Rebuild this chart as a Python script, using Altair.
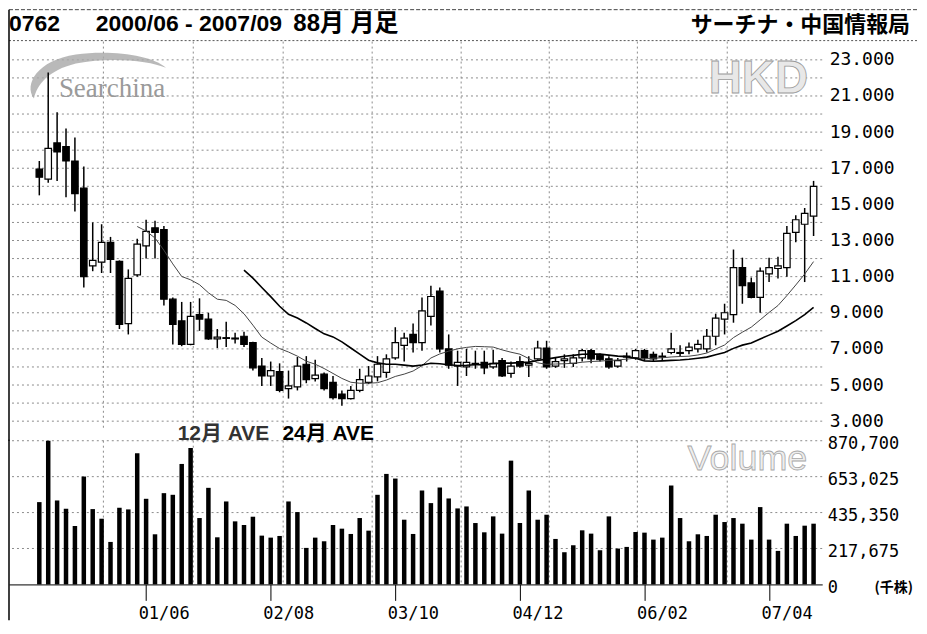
import altair as alt
import pandas as pd

# ---------------- data ----------------
open_ = [16.95, 16.4, 18.4, 18.2, 17.4, 15.9, 11.6, 11.8, 12.9, 11.85,
         8.4, 11.1, 12.7, 13.7, 13.6, 9.75, 8.55, 7.25, 8.9, 8.65,
         7.55, 7.62, 7.6, 7.7, 7.35, 6.05, 5.5, 5.75, 4.8, 4.9,
         6.15, 5.35, 5.6, 5.15, 4.5, 4.25, 4.7, 5.15, 5.45, 5.7,
         6.5, 7.2, 7.8, 7.35, 8.8, 10.2, 7.0, 6.05, 6.0, 6.2,
         6.25, 6.0, 6.35, 5.65, 6.3, 6.1, 6.45, 7.05, 6.05, 6.35,
         6.2, 6.5, 6.9, 6.65, 6.45, 6.05, 6.55, 6.5, 6.9, 6.7,
         6.55, 6.8, 6.75, 6.9, 7.0, 7.0, 7.7, 8.65, 8.9, 11.5,
         10.65, 9.85, 11.15, 11.45, 11.5, 13.45, 13.9, 14.35]
high = [17.4, 22.3, 20.1, 19.2, 18.7, 17.1, 14.0, 13.9, 13.2, 11.9,
        11.4, 13.1, 14.15, 14.1, 13.8, 9.85, 9.6, 9.6, 9.8, 9.0,
        8.1, 8.5, 7.9, 7.95, 7.4, 6.5, 6.3, 6.2, 5.8, 6.55,
        6.6, 6.4, 5.7, 5.5, 4.7, 4.95, 5.9, 6.05, 6.6, 6.7,
        8.2, 7.9, 8.4, 9.85, 10.5, 10.4, 7.8, 6.9, 7.0, 6.9,
        6.9, 6.95, 6.5, 6.3, 6.6, 6.6, 7.45, 7.45, 6.5, 6.7,
        6.7, 7.0, 7.0, 6.75, 6.6, 6.5, 6.8, 7.0, 7.0, 6.85,
        6.8, 7.9, 7.2, 7.35, 7.5, 8.1, 8.95, 9.5, 12.5, 12.05,
        10.95, 11.5, 12.05, 12.1, 13.8, 14.4, 14.8, 16.3]
low = [15.5, 16.2, 16.3, 15.4, 14.6, 10.4, 11.3, 11.2, 11.2, 8.1,
       7.8, 11.0, 12.0, 12.0, 9.4, 7.25, 7.15, 7.2, 8.0, 7.5,
       7.05, 7.1, 7.3, 7.1, 5.8, 4.95, 4.95, 4.6, 4.25, 4.7,
       5.1, 5.2, 4.7, 4.2, 3.85, 4.2, 4.6, 5.05, 5.2, 5.4,
       6.4, 6.3, 6.8, 6.9, 8.3, 6.8, 5.9, 4.95, 5.5, 5.9,
       5.6, 5.9, 5.45, 5.4, 5.95, 5.45, 6.4, 5.9, 5.95, 5.95,
       6.0, 6.3, 6.2, 6.3, 5.9, 5.95, 6.3, 6.4, 6.35, 6.3,
       6.35, 6.7, 6.6, 6.7, 6.8, 6.8, 7.2, 7.8, 8.45, 9.5,
       9.8, 9.0, 10.7, 10.9, 11.0, 12.9, 10.7, 13.25]
close = [16.5, 18.1, 17.9, 17.4, 15.6, 11.0, 11.9, 12.9, 11.95, 8.35,
         10.9, 12.8, 13.5, 13.45, 9.75, 8.35, 7.25, 8.8, 8.65, 7.55,
         7.65, 7.58, 7.55, 7.25, 5.95, 5.5, 5.8, 4.7, 4.95, 6.05,
         5.3, 5.55, 4.8, 4.3, 4.25, 4.7, 5.3, 5.5, 6.15, 6.45,
         7.35, 7.6, 7.35, 9.1, 9.9, 7.0, 6.1, 6.25, 6.25, 6.15,
         5.95, 6.2, 5.5, 6.05, 6.05, 6.2, 7.05, 6.0, 6.3, 6.45,
         6.5, 6.9, 6.45, 6.4, 6.0, 6.35, 6.6, 6.9, 6.5, 6.45,
         6.6, 7.0, 6.8, 7.1, 7.25, 7.7, 8.7, 9.0, 11.5, 10.5,
         9.85, 11.3, 11.5, 11.6, 13.4, 14.15, 14.5, 16.0]
volume = [498700, 870700, 508700, 458500, 353900, 653600, 456400, 398100, 257400, 464500,
          454500, 794300, 518800, 303700, 553000, 543000, 730000, 826400, 402200, 585200,
          285500, 502700, 382100, 359900, 410200, 295600, 283500, 293600, 502700, 438400,
          221200, 283500, 261400, 359900, 337800, 305700, 402200, 325700, 543000, 669600,
          641500, 392100, 305700, 569100, 492700, 587200, 520800, 460500, 472500, 371900,
          315700, 412200, 307700, 750000, 371900, 569100, 392100, 422300, 275500, 195000,
          237300, 327800, 307700, 207100, 412200, 217200, 227200, 317700, 313700, 271500,
          283500, 599300, 402200, 261400, 303700, 293600, 422300, 378000, 402200, 368000,
          271500, 468500, 271500, 203100, 368000, 293600, 355900, 368000]
month_idx = list(range(len(close)))

price_ticks = [3, 5, 7, 9, 11, 13, 15, 17, 19, 21, 23]
price_grid = list(range(3, 24))
vol_ticks = [0, 217675, 435350, 653025, 870700]
x_tick_idx = [12, 26, 40, 54, 68, 82]
x_tick_labels = ["01/06", "02/08", "03/10", "04/12", "06/02", "07/04"]
vgrid_pos = [7.2, 17.3, 27.4, 37.4, 47.4, 57.3, 67.2, 77.3]

header_left = ["0762", "2000/06 - 2007/09", "88月 月足"]
header_right = "サーチナ・中国情報局"
ma_labels = ["12月 AVE", "24月 AVE"]

df = pd.DataFrame(dict(i=month_idx, open=open_, high=high, low=low,
                       close=close, vol=volume))

# ---------------- layout / style ----------------
W, H1, H2 = 815, 388, 144
MONO = "DejaVu Sans Mono"
GRID = "#8c8c8c"
xsc = alt.Scale(domain=[-2.846, 87.41], nice=False, zero=False)
ysc = alt.Scale(domain=[2.58, 24.01], nice=False, zero=False)
vsc = alt.Scale(domain=[0, 870700], nice=False)
X0 = alt.X("i:Q", scale=xsc, axis=None, title=None)


def txt(s, x, y, **kw):
    return alt.Chart(pd.DataFrame({"t": [s]})).mark_text(**kw).encode(
        text="t:N", x=alt.value(x), y=alt.value(y))


def one():
    return pd.DataFrame({"a": [0]})


# ---------------- price panel ----------------
price_axis = alt.Axis(orient="right", values=price_ticks, format=".3f",
                      ticks=False, domain=False, grid=False, labelPadding=7,
                      labelFont=MONO, labelFontSize=18, labelColor="black",
                      labelFlush=False, labelOverlap=False, title=None)

# invisible carrier of the price axis (first layer so its axis settings win)
price_axis_layer = alt.Chart(df).mark_point(opacity=0).encode(
    x=X0, y=alt.Y("close:Q", scale=ysc, title=None, axis=price_axis))

hgrid = alt.Chart(pd.DataFrame({"v": price_grid})).mark_rule(
    color=GRID, strokeDash=[2, 3], strokeWidth=1).encode(
    y=alt.Y("v:Q", scale=ysc, title=None, axis=price_axis))
vgrid_top = alt.Chart(pd.DataFrame({"g": vgrid_pos})).mark_rule(
    color=GRID, strokeDash=[2, 3], strokeWidth=1).encode(
    x=alt.X("g:Q", scale=xsc, axis=None, title=None))

wick = alt.Chart(df).mark_rule(color="black", strokeWidth=1.5).encode(
    x=X0,
    y=alt.Y("low:Q", scale=ysc, title=None, axis=price_axis),
    y2="high:Q")

body = alt.Chart(df).mark_bar(size=6.5, stroke="black", strokeWidth=1.2).encode(
    x=X0,
    y=alt.Y("open:Q", scale=ysc, title=None, axis=price_axis),
    y2="close:Q",
    fill=alt.condition("datum.close >= datum.open", alt.value("white"),
                       alt.value("black")))

ma12 = alt.Chart(df).transform_window(
    ma="mean(close)", frame=[-11, 0], sort=[alt.SortField("i")]
).transform_filter("datum.i >= 11").mark_line(
    color="#444", strokeWidth=1).encode(
    x=X0, y=alt.Y("ma:Q", scale=ysc, title=None, axis=price_axis))

ma24 = alt.Chart(df).transform_window(
    ma="mean(close)", frame=[-23, 0], sort=[alt.SortField("i")]
).transform_filter("datum.i >= 23").mark_line(
    color="black", strokeWidth=1.6).encode(
    x=X0, y=alt.Y("ma:Q", scale=ysc, title=None, axis=price_axis))

frame_top = alt.Chart(one()).mark_rule(color="#444", strokeDash=[4, 2]).encode(
    x=alt.value(0), x2=alt.value(911), y=alt.value(-32))
frame_sep = alt.Chart(one()).mark_rule(color="#555", strokeDash=[2, 2]).encode(
    x=alt.value(0), x2=alt.value(911), y=alt.value(-1))
frame_left = alt.Chart(one()).mark_rule(color="black", strokeWidth=1.5).encode(
    x=alt.value(0), y=alt.value(-32), y2=alt.value(H1 + 12))

# Searchina logo swoosh (decorative watermark)
SWOOSH = ("M -0.9 0.3 C -1.05 0.1 -0.85 -0.25 -0.3 -0.33 "
          "C 0.2 -0.4 0.8 -0.32 0.99 -0.14 "
          "C 0.75 -0.24 0.2 -0.3 -0.3 -0.2 "
          "C -0.7 -0.1 -0.85 0.1 -0.9 0.3 Z")
swoosh = alt.Chart(one()).mark_point(
    shape=SWOOSH, size=19600, filled=True, color="#a8a8a8", opacity=0.8,
    strokeWidth=0).encode(x=alt.value(88), y=alt.value(36))

HFONT = "Liberation Sans Narrow, Liberation Sans, sans-serif"
hdr = [
    txt(header_left[0], 0, -18, align="left", baseline="middle", font=HFONT,
        fontSize=23, fontWeight="bold", color="black"),
    txt(header_left[1], 87, -18, align="left", baseline="middle", font=HFONT,
        fontSize=23, fontWeight="bold", color="black"),
    txt(header_left[2], 285, -18, align="left", baseline="middle",
        font="Liberation Sans, Noto Sans CJK JP", fontSize=24,
        fontWeight="bold", color="black"),
    txt(header_right, 903, -17, align="right", baseline="middle",
        font="Liberation Sans, Noto Sans CJK JP", fontSize=22,
        fontWeight="bold", color="black"),
    txt("HKD", 751, 38, align="center", baseline="middle",
        font="Liberation Sans", fontSize=46, fontWeight="bold",
        color="#e8e8e8", stroke="#9a9a9a", strokeWidth=0.8),
    txt("Searchina", 50, 48, align="left", baseline="middle",
        font="Liberation Serif", fontSize=27, color="#9a9a9a"),
    txt(ma_labels[0], 169, 393, align="left", baseline="middle",
        font="Liberation Sans, Noto Sans CJK JP", fontSize=21,
        fontWeight="bold", color="#333"),
    txt(ma_labels[1], 274, 393, align="left", baseline="middle",
        font="Liberation Sans, Noto Sans CJK JP", fontSize=21,
        fontWeight="bold", color="black"),
]

top = alt.layer(
    price_axis_layer, hgrid, vgrid_top, frame_top, frame_sep, frame_left,
    swoosh, *hdr, wick, body, ma12, ma24
).properties(width=W, height=H1)

# ---------------- volume panel ----------------
label_expr = " : ".join(
    f"datum.value == {v} ? '{l}'" for v, l in zip(x_tick_idx, x_tick_labels)
) + " : ''"

x_axis = alt.Axis(values=x_tick_idx, labelExpr=label_expr, tickSize=16,
                  tickColor="black", domainColor="black", grid=False,
                  labelFont=MONO, labelFontSize=17, labelColor="black",
                  labelAlign="left", labelOffset=-8, labelPadding=5,
                  labelFlush=False, labelOverlap=False, title=None)
vol_axis = alt.Axis(orient="right", values=vol_ticks,
                    labelExpr="format(datum.value, ',.0f')",
                    ticks=False, domain=False, grid=False, labelPadding=5,
                    labelFont=MONO, labelFontSize=17, labelColor="black",
                    labelOffset=3, labelFlush=False, labelOverlap=False,
                    title=None)

vol_axis_layer = alt.Chart(df).mark_point(opacity=0).encode(
    x=alt.X("i:Q", scale=xsc, title=None, axis=x_axis),
    y=alt.Y("vol:Q", scale=vsc, title=None, axis=vol_axis))

hgrid_b = alt.Chart(pd.DataFrame({"v": vol_ticks[1:]})).mark_rule(
    color=GRID, strokeDash=[2, 3], strokeWidth=1).encode(
    y=alt.Y("v:Q", scale=vsc, title=None, axis=vol_axis))
vgrid_b = alt.Chart(pd.DataFrame({"g": vgrid_pos})).mark_rule(
    color=GRID, strokeDash=[2, 3], strokeWidth=1).encode(
    x=alt.X("g:Q", scale=xsc, title=None, axis=x_axis))

bars = alt.Chart(df).mark_bar(size=4.5, color="black").encode(
    x=alt.X("i:Q", scale=xsc, title=None, axis=x_axis),
    y=alt.Y("vol:Q", scale=vsc, title=None, axis=vol_axis))

frame_left_b = alt.Chart(one()).mark_rule(color="black", strokeWidth=1.5).encode(
    x=alt.value(0), y=alt.value(-1), y2=alt.value(H2 + 36))

vol_txt = [
    txt("Volume", 740, 18, align="center", baseline="middle",
        font="Liberation Sans", fontSize=36, color="#eeeeee",
        stroke="#a8a8a8", strokeWidth=0.8),
    txt("(千株)", 906, H2 + 4, align="right", baseline="middle",
        font="Noto Sans CJK JP", fontSize=14, fontWeight="bold", color="black"),
]

bottom = alt.layer(
    vol_axis_layer, hgrid_b, vgrid_b, frame_left_b, *vol_txt, bars
).properties(width=W, height=H2)

chart = alt.vconcat(top, bottom, spacing=12, bounds="flush").properties(
    padding=0, background="white"
).configure_view(stroke=None)

chart.save("out.html", embed_options={"renderer": "svg", "actions": False})
